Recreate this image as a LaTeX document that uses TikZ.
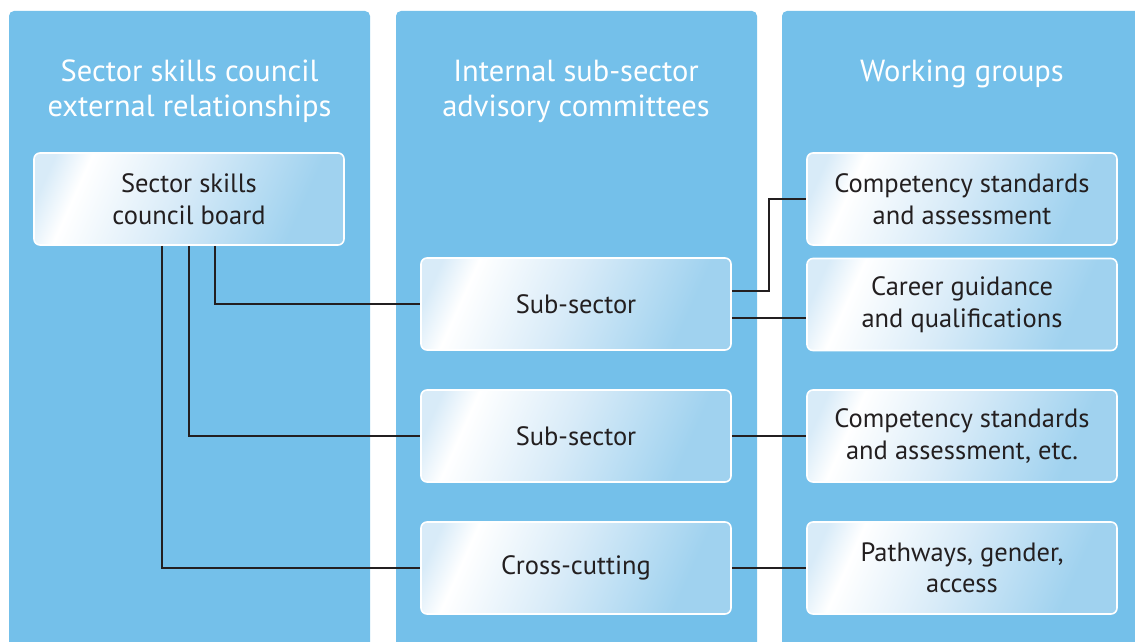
\documentclass[tikz,border=0pt]{standalone}
\usepackage{fontspec}
\setmainfont{PT Sans}
\definecolor{colbg}{HTML}{74C0EA}
\definecolor{boxl}{HTML}{D8EBF8}
\definecolor{boxr}{HTML}{A0D2EF}
\definecolor{linec}{HTML}{231F20}
\pgfdeclarehorizontalshading{boxshade}{100bp}{color(0bp)=(boxl); color(21bp)=(boxl); color(28bp)=(white); color(48bp)=(boxl); color(72bp)=(boxr); color(100bp)=(boxr)}
\tikzset{
  colhead/.style={text=white, font=\fontsize{30.5}{35}\selectfont, align=center},
  wbox/.style={draw=white, line width=1.6pt, rounded corners=6pt, shading=boxshade, shading angle=-24,
    minimum width=310pt, minimum height=92pt, inner sep=0pt, text=linec,
    font=\fontsize{26.5}{31.5}\selectfont, align=center},
  conn/.style={draw=linec, line width=1.4pt}
}
\begin{document}
\begin{tikzpicture}[x=1pt,y=-1pt]
\useasboundingbox (0,0) rectangle (1135,642);
\fill[white] (0,0) rectangle (1135,642);
% columns
\fill[colbg] (9,642) [rounded corners=5pt] -- (9,11) -- (370,11) [sharp corners] -- (370,642) -- cycle;
\fill[colbg] (396,642) [rounded corners=5pt] -- (396,11) -- (757,11) [sharp corners] -- (757,642) -- cycle;
\fill[colbg] (782,642) [rounded corners=5pt] -- (782,11) -- (1142,11) [sharp corners] -- (1142,642) -- cycle;
% headings
\node[colhead] (h1) at (189.5,91) {Sector skills council\\external relationships};
\node[colhead] (h2) at (576,91) {Internal sub-sector\\advisory committees};
\node[colhead] (h3) at (962,74) {Working groups};
% boxes
\node[wbox] (board) at (189,199) {Sector skills\\council board};
\node[wbox] (sub1) at (576,304) {Sub-sector};
\node[wbox] (sub2) at (576,436) {Sub-sector};
\node[wbox] (cross) at (576,568) {Cross-cutting};
\node[wbox] (comp1) at (962,199) {Competency standards\\and assessment};
\node[wbox] (career) at (962,304.5) {Career guidance\\and qualifications};
\node[wbox] (comp2) at (962,436) {Competency standards\\and assessment, etc.};
\node[wbox] (path) at (962,568) {Pathways, gender,\\access};
% connectors
\draw[conn] ([xshift=26pt]board.south) |- (sub1.west);
\draw[conn] (board.south) |- (sub2.west);
\draw[conn] ([xshift=-27pt]board.south) |- (cross.west);
\draw[conn] ([yshift=13pt]sub1.east) -- ++(37,0) |- (comp1.west);
\draw[conn] ([yshift=-14pt]sub1.east) -- ([yshift=-14pt]sub1.east -| career.west);
\draw[conn] (sub2.east) -- (comp2.west);
\draw[conn] (cross.east) -- (path.west);
\end{tikzpicture}
\end{document}
